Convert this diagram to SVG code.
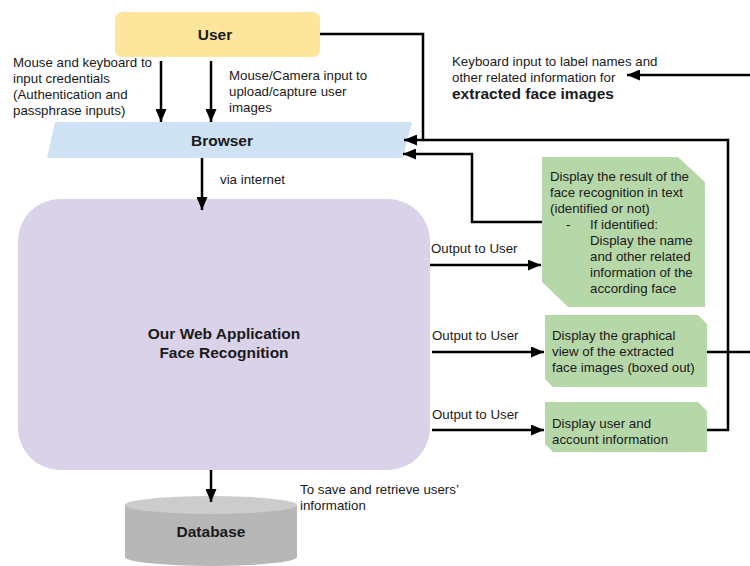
<svg xmlns="http://www.w3.org/2000/svg" width="750" height="566" viewBox="0 0 750 566">
<style>
text{font-family:"Liberation Sans",Arial,sans-serif;fill:#1a1a1a}
.t{font-size:13.3px}
.b{font-size:15.5px;font-weight:bold}
.c{text-anchor:middle}
.ln{fill:none;stroke:#000;stroke-width:2.5}
.g{fill:#b6d7a8}
</style>
<defs>
<marker id="ah" markerUnits="userSpaceOnUse" markerWidth="13" markerHeight="11" refX="13" refY="5.5" orient="auto">
<path d="M0,0 L13,5.5 L0,11 z" fill="#000"/>
</marker>
</defs>
<rect width="750" height="566" fill="#fff"/>

<g id="user">
<rect x="115" y="12" width="205" height="45" rx="7" fill="#fde59c"/>
<text class="b c" x="215" y="40">User</text>
</g>

<g id="browser">
<path d="M55,122 L412,122 L403,158 L47,158 Z" fill="#cfe2f3"/>
<text class="b c" x="222" y="146">Browser</text>
</g>

<g id="webapp">
<rect x="18" y="199" width="412" height="271" rx="42" fill="#d9d2e9"/>
<text class="b c" x="224" y="339">Our Web Application</text>
<text class="b c" x="224" y="358">Face Recognition</text>
</g>

<g id="database">
<path d="M125,505 V557 A86,9 0 0 0 297,557 V505 Z" fill="#b7b7b7"/>
<ellipse cx="211" cy="505" rx="86" ry="9" fill="#cccccc"/>
<text class="b c" x="211" y="537">Database</text>
</g>

<g id="result">
<path class="g" d="M542,157 H678 L705,182 V307 H568 L542,282 Z"/>
<text class="t" x="550" y="181">Display the result of the</text>
<text class="t" x="550" y="197">face recognition in text</text>
<text class="t" x="550" y="213">(identified or not)</text>
<text class="t" x="566" y="229">-</text>
<text class="t" x="590" y="229">If identified:</text>
<text class="t" x="590" y="245">Display the name</text>
<text class="t" x="590" y="261">and other related</text>
<text class="t" x="590" y="277">information of the</text>
<text class="t" x="590" y="293">according face</text>
</g>

<g id="graphical">
<path class="g" d="M545,315 H698 L707,324 V387 H553 L545,379 Z"/>
<text class="t" x="552" y="340">Display the graphical</text>
<text class="t" x="552" y="356">view of the extracted</text>
<text class="t" x="552" y="372">face images (boxed out)</text>
</g>

<g id="account">
<path class="g" d="M545,402 H698 L707,411 V452 H553 L545,444 Z"/>
<text class="t" x="552" y="428">Display user and</text>
<text class="t" x="552" y="444">account information</text>
</g>

<g id="connectors">
<path class="ln" d="M161,61 V122" marker-end="url(#ah)"/>
<path class="ln" d="M211,61 V122" marker-end="url(#ah)"/>
<path class="ln" d="M320,34 H423 V140 H404" marker-end="url(#ah)"/>
<path class="ln" d="M707,430 H728 V140 H423"/>
<path class="ln" d="M542,222 H472 V154 H403" marker-end="url(#ah)"/>
<path class="ln" d="M707,352 H750"/>
<path class="ln" d="M750,75 H627" marker-end="url(#ah)"/>
<path class="ln" d="M202,158 V210" marker-end="url(#ah)"/>
<path class="ln" d="M430,265 H541" marker-end="url(#ah)"/>
<path class="ln" d="M432,352 H544" marker-end="url(#ah)"/>
<path class="ln" d="M432,430 H544" marker-end="url(#ah)"/>
<path class="ln" d="M211,470 V502" marker-end="url(#ah)"/>
</g>

<g id="labels">
<text class="t" x="13" y="67">Mouse and keyboard to</text>
<text class="t" x="13" y="83">input credentials</text>
<text class="t" x="13" y="99">(Authentication and</text>
<text class="t" x="13" y="115">passphrase inputs)</text>
<text class="t" x="229" y="80">Mouse/Camera input to</text>
<text class="t" x="229" y="96">upload/capture user</text>
<text class="t" x="229" y="112">images</text>
<text class="t" x="220" y="184">via internet</text>
<text class="t" x="452" y="66">Keyboard input to label names and</text>
<text class="t" x="452" y="82">other related information for</text>
<text class="b" x="452" y="99">extracted face images</text>
<text class="t" x="431" y="253">Output to User</text>
<text class="t" x="432" y="340">Output to User</text>
<text class="t" x="432" y="419">Output to User</text>
<text class="t" x="300" y="494">To save and retrieve users’</text>
<text class="t" x="300" y="510">information</text>
</g>
</svg>
